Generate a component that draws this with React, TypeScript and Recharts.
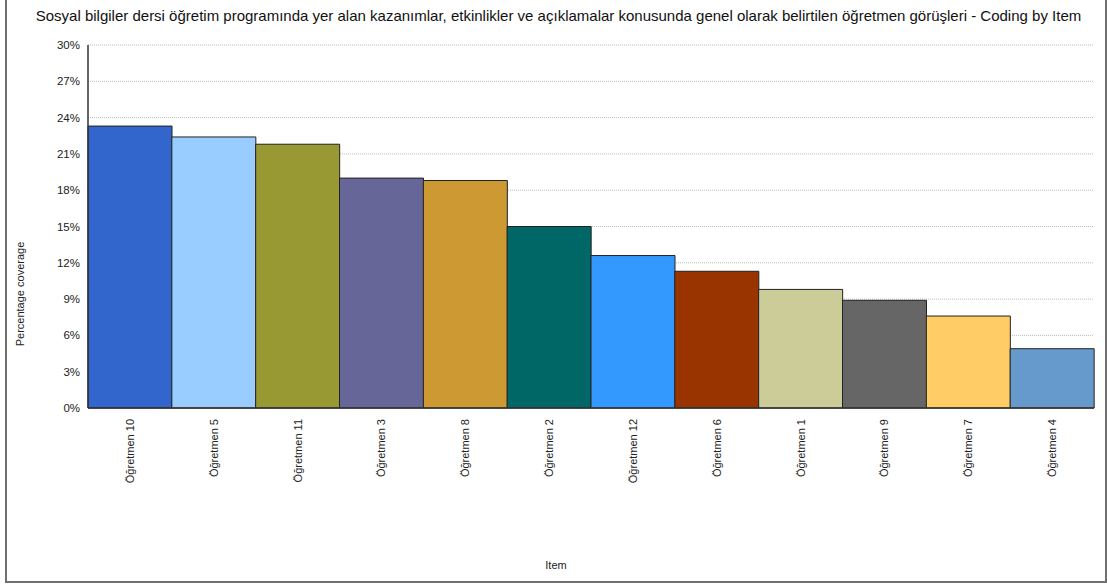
import { BarChart, Bar, XAxis, YAxis, CartesianGrid, Cell } from 'recharts'

const teachers = [
  'Öğretmen 10', 'Öğretmen 5', 'Öğretmen 11', 'Öğretmen 3', 'Öğretmen 8', 'Öğretmen 2',
  'Öğretmen 12', 'Öğretmen 6', 'Öğretmen 1', 'Öğretmen 9', 'Öğretmen 7', 'Öğretmen 4',
]
const coverage = [23.3, 22.4, 21.8, 19.0, 18.8, 15.0, 12.6, 11.3, 9.8, 8.9, 7.6, 4.9]
const barColors = [
  '#3366CC', '#99CCFF', '#999933', '#666699', '#CC9933', '#006666',
  '#3399FF', '#993300', '#CCCC99', '#666666', '#FFCC66', '#6699CC',
]
const yTicks = [0, 3, 6, 9, 12, 15, 18, 21, 24, 27, 30]

const title =
  'Sosyal bilgiler dersi öğretim programında yer alan kazanımlar, etkinlikler ve açıklamalar konusunda genel olarak belirtilen öğretmen görüşleri - Coding by Item'

const data = teachers.map((name, i) => ({ name, value: coverage[i] }))

const font = '"Liberation Sans", Arial, sans-serif'

function RotatedTick({ x, y, payload }: any) {
  return (
    <text
      x={0}
      y={0}
      transform={`translate(${x + 4},${y + 3}) rotate(-90)`}
      textAnchor="end"
      fontSize={11}
      fontFamily={font}
      fill="#222"
    >
      {payload.value}
    </text>
  )
}

export default function App() {
  return (
    <div style={{ position: 'absolute', left: 0, top: 0, width: 1107, height: 588, background: '#fff', fontFamily: font }}>
      <div
        style={{
          position: 'absolute', left: 5, top: -2, width: 1102, height: 585,
          border: '2px solid #707070', boxSizing: 'border-box',
        }}
      />
      <div style={{ position: 'absolute', left: 0, width: 1117, top: 7, textAlign: 'center', fontSize: 15, color: '#111', whiteSpace: 'nowrap' }}>
        {title}
      </div>
      <div
        style={{
          position: 'absolute', left: 20, top: 294, fontSize: 11, color: '#222', whiteSpace: 'nowrap',
          transform: 'translate(-50%, -50%) rotate(-90deg)',
        }}
      >
        Percentage coverage
      </div>
      <div style={{ position: 'absolute', left: 0, top: 0 }}>
        <BarChart
          width={1107}
          height={588}
          data={data}
          margin={{ top: 45, right: 13, left: 28, bottom: 6 }}
          barCategoryGap={0}
          barGap={0}
        >
          <CartesianGrid vertical={false} stroke="#bbb" strokeDasharray="1 1" />
          <XAxis
            dataKey="name"
            interval={0}
            height={174}
            tick={<RotatedTick />}
            tickLine={false}
            axisLine={{ stroke: '#333', strokeWidth: 1.5 }}
          />
          <YAxis
            width={60}
            domain={[0, 30]}
            ticks={yTicks}
            tickFormatter={(v) => `${v}%`}
            tick={{ fill: '#222', fontSize: 11.5, fontFamily: font }}
            tickLine={false}
            axisLine={{ stroke: '#333', strokeWidth: 1.5 }}
          />
          <Bar dataKey="value" stroke="#222" strokeWidth={1} isAnimationActive={false}>
            {data.map((d, i) => (
              <Cell key={d.name} fill={barColors[i]} />
            ))}
          </Bar>
        </BarChart>
      </div>
      <div style={{ position: 'absolute', left: 556, top: 565, transform: 'translate(-50%, -50%)', fontSize: 11, color: '#222' }}>
        Item
      </div>
    </div>
  )
}
